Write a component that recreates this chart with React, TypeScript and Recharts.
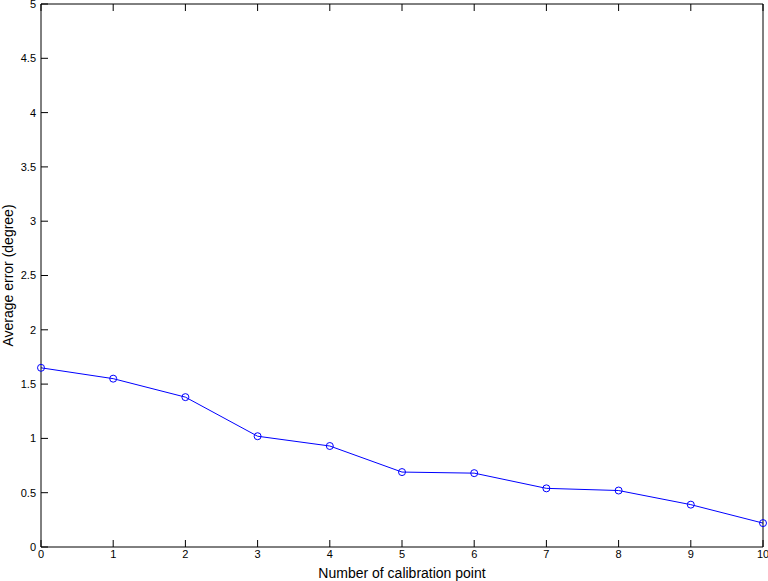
import { LineChart, Line, XAxis, YAxis } from 'recharts';

const calibrationPoints = [0, 1, 2, 3, 4, 5, 6, 7, 8, 9, 10];
const averageError = [1.65, 1.55, 1.38, 1.02, 0.93, 0.69, 0.68, 0.54, 0.52, 0.39, 0.22];
const xTicks = [0, 1, 2, 3, 4, 5, 6, 7, 8, 9, 10];
const yTicks = [0, 0.5, 1, 1.5, 2, 2.5, 3, 3.5, 4, 4.5, 5];

const data = calibrationPoints.map((p, i) => ({ point: p, error: averageError[i] }));

const font = '"Liberation Sans", Arial, Helvetica, sans-serif';
const tickStyle = { fill: '#000', fontSize: 11, fontFamily: font };
const lineStyle = { stroke: '#000', strokeWidth: 1 };

const YTitle = (props: any) => {
  const vb = props.viewBox || { x: 0, y: 4, width: 41, height: 543 };
  const cy = vb.y + vb.height / 2;
  return (
    <text
      x={13}
      y={cy}
      transform={`rotate(-90, 13, ${cy})`}
      textAnchor="middle"
      fill="#000"
      fontSize={14}
      fontFamily={font}
    >
      Average error (degree)
    </text>
  );
};

export default function App() {
  return (
    <div style={{ position: 'absolute', left: 0, top: 0, width: 768, height: 581, background: '#fff' }}>
      <LineChart width={768} height={581} data={data} margin={{ top: 3, right: 4, left: 0, bottom: 0 }}>
        <XAxis
          xAxisId="bottom"
          dataKey="point"
          type="number"
          domain={[0, 10]}
          ticks={xTicks}
          interval={0}
          height={34}
          tickSize={-7}
          tickMargin={10}
          tick={tickStyle}
          axisLine={lineStyle}
          tickLine={lineStyle}
          label={{ value: 'Number of calibration point', position: 'insideBottom', offset: 3, fill: '#000', fontSize: 14, fontFamily: font }}
        />
        <XAxis
          xAxisId="top"
          orientation="top"
          dataKey="point"
          type="number"
          domain={[0, 10]}
          ticks={xTicks}
          interval={0}
          height={1}
          tickSize={-7}
          tickFormatter={() => ''}
          axisLine={lineStyle}
          tickLine={lineStyle}
        />
        <YAxis
          yAxisId="left"
          type="number"
          domain={[0, 5]}
          ticks={yTicks}
          interval={0}
          width={41}
          tickSize={-7}
          tickMargin={12}
          tick={tickStyle}
          axisLine={lineStyle}
          tickLine={lineStyle}
          label={{ content: YTitle }}
        />
        <YAxis
          yAxisId="right"
          orientation="right"
          type="number"
          domain={[0, 5]}
          ticks={yTicks}
          interval={0}
          width={1}
          tickSize={-7}
          tickFormatter={() => ''}
          axisLine={lineStyle}
          tickLine={lineStyle}
        />
        <Line
          xAxisId="bottom"
          yAxisId="left"
          type="linear"
          dataKey="error"
          stroke="#0000ff"
          strokeWidth={1}
          dot={{ r: 3.5, stroke: '#0000ff', strokeWidth: 1, fill: 'none' }}
          activeDot={false}
          isAnimationActive={false}
        />
      </LineChart>
    </div>
  );
}
